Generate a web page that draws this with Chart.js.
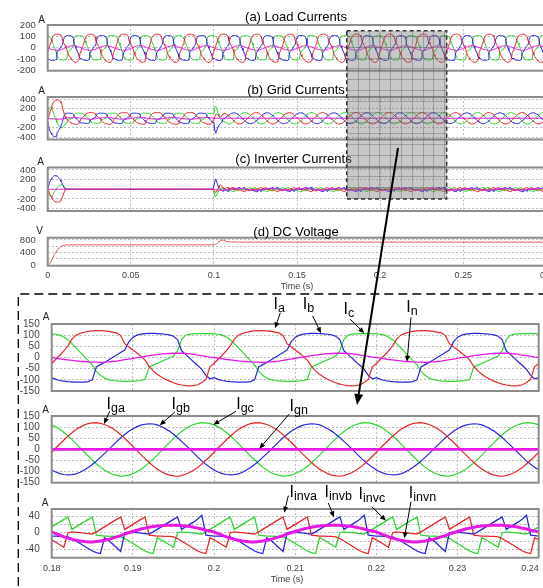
<!DOCTYPE html>
<html><head><meta charset="utf-8">
<script src="https://cdn.jsdelivr.net/npm/chart.js@4.4.1/dist/chart.umd.min.js"></script>
<style>
html,body{margin:0;padding:0;background:#fff;}
body{width:543px;height:588px;overflow:hidden;position:relative;font-family:Arial,"Liberation Sans",sans-serif;}
canvas{position:absolute;left:0;}
.t{position:absolute;white-space:nowrap;transform:translate(-50%,-50%);line-height:1;}
.ttl{font-size:13px;color:#000;}
.unit{font-size:10px;color:#222;}
.xt{font-size:9px;color:#444;}
.lab{position:absolute;white-space:nowrap;font-size:16px;line-height:16px;color:#000;}
.lab span{font-size:12.5px;position:relative;top:3px;}
#shade{position:absolute;background-color:rgba(110,110,110,0.38);
 background-image:repeating-linear-gradient(0deg,rgba(80,80,80,0.35) 0 1px,transparent 1px 10.8px),repeating-linear-gradient(90deg,rgba(80,80,80,0.35) 0 1px,transparent 1px 10.8px);}
svg{position:absolute;left:0;top:0;}
</style></head><body>
<script>
// ---------- DATA (one 20 ms cycle, sampled every 0.5 ms) ----------
const sampleStep = 0.0005;
const tEnd = 0.3;
const tStep = 0.1;
// load currents (a)/(e)
const cycleLoadA = [-27,-8,10,30,52,82,100,108,113,117,119,120,120,119,117,114,110,98,62,48,34,20,5,-12,-40,-60,-75,-87,-97,-106,-113,-119,-123,-126,-127,-126,-122,-112,-98,-42];
const cycleLoadB = [-90,-98,-103,-106,-108,-109,-110,-110,-110,-108,-100,-42,-32,-22,-11,0,11,22,33,70,90,100,105,107,108,108,107,106,104,101,95,80,30,14,-3,-20,-36,-53,-80,-95];
const cycleLoadC = [106,104,100,92,80,62,43,24,5,-14,-33,-62,-80,-92,-99,-103,-105,-106,-107,-107,-106,-105,-103,-98,-42,-34,-26,-18,-10,-2,7,30,80,100,105,106,107,107,107,107];
const cycleLoadN = [0,-3,-6,-9,-11,-13,-15,-17,-18,-20,-21,-21,-22,-21,-20,-18,-16,-13,-10,-7,-4,-1,2,5,8,11,13,15,17,18,19,19,19,18,16,14,11,8,5,2];
// grid currents after compensation (b)/(f)
const cycleGridA = [-13,6,24,42,59,75,89,100,109,116,119,120,117,112,104,94,81,66,49,32,13,-6,-24,-42,-59,-75,-89,-100,-109,-116,-119,-121,-118,-112,-104,-94,-81,-66,-49,-32];
const cycleGridB = [-93,-102,-109,-113,-115,-114,-110,-103,-93,-82,-68,-53,-36,-19,-1,17,35,52,67,81,93,102,109,113,115,114,110,103,93,82,68,53,36,19,1,-17,-35,-52,-67,-81];
const cycleGridC = [110,101,90,76,61,44,26,7,-12,-30,-48,-65,-80,-93,-104,-112,-117,-120,-119,-116,-110,-101,-90,-76,-61,-44,-26,-7,12,30,48,65,80,93,104,112,117,120,119,116];
const cycleGridN = [0,0,0,0,0,0,0,0,0,0,0,0,0,0,0,0,0,0,0,0,0,0,0,0,0,0,0,0,0,0,0,0,0,0,0,0,0,0,0,0];
// inverter currents (c)/(g)
const cycleInvA = [-17,-23,-29,-35,0,2,1,0,-1,-2,-3,2,8,14,20,26,32,38,8,14,20,26,32,38,-6,-7,-8,-8,-9,-9,-10,-14,-20,-26,-32,-38,-44,-48,-50,-12];
const cycleInvB = [-8,-8,-9,-9,-10,-14,-20,-26,-32,-38,-44,-48,-50,-12,-18,-27,-36,-45,0,2,1,0,-1,-2,-3,2,8,14,20,26,32,38,8,14,20,26,33,42,-6,-7];
const cycleInvC = [14,20,26,32,38,8,14,20,26,32,38,-6,-7,-8,-8,-9,-9,-10,-14,-20,-26,-32,-38,-44,-48,-50,-12,-17,-23,-29,-35,0,2,1,0,-1,-2,-3,2,8];
const cycleInvN = [2,-2,-6,-10,-13,-16,-18,-20,-21,-22,-22,-21,-20,-18,-16,-13,-10,-7,-3,0,3,6,9,11,13,15,16,17,18,18,18,18,17,16,15,13,11,9,6,4];
// start-up transient 0 .. 12 ms
const startInvA = [0,-30,-70,-115,-150,-180,-210,-232,-248,-258,-264,-268,-268,-266,-258,-244,-222,-190,-150,-100,-50,-15,0,0,0];
const startInvB = [0,60,120,170,205,235,255,270,280,282,280,272,260,243,222,196,166,132,95,58,25,5,0,0,0];
const startInvC = [0,-60,-110,-140,-150,-140,-115,-85,-55,-25,0,25,45,62,75,85,92,95,90,75,50,20,0,0,0];
const startGridA = [-27,22,80,145,202,262,310,340,361,375,383,388,388,385,375,358,332,288,212,148,84,35,5,-12,-40];
const startGridB = [-90,-158,-223,-276,-313,-344,-365,-380,-390,-390,-380,-314,-292,-265,-233,-196,-155,-110,-62,12,65,95,105,107,108];
const startGridC = [106,164,210,232,230,202,158,109,60,11,-33,-87,-125,-154,-174,-188,-197,-201,-197,-182,-156,-125,-103,-98,-42];
// compensation switched on at 0.1 s, 100 .. 108 ms
const stepInvA = [0,-40,-70,-55,-20,20,55,80,90,75,50,30,15,14,20,26,32];
const stepInvB = [0,150,214,180,120,70,40,20,5,-10,-30,-40,-25,-12,-18,-27,-36];
const stepInvC = [0,-120,-160,-130,-80,-40,-15,0,10,25,30,-6,-7,-8,-8,-9,-9];
const stepGridA = [-27,32,80,85,72,62,45,28,23,42,69,90,105,105,97,88,78];
const stepGridB = [-90,-248,-317,-286,-228,-179,-150,-130,-115,-98,-70,-2,-7,-10,7,27,47];
const stepGridC = [106,224,260,222,160,102,58,24,-5,-39,-63,-56,-73,-84,-91,-94,-96];
// DC voltage (d)
const dcTime = [0,0.001,0.002,0.003,0.004,0.005,0.006,0.007,0.008,0.009,0.010,0.011,0.012,0.1,0.1005,0.101,0.102,0.103,0.104,0.105,0.106,0.107,0.108,0.11,0.12,0.3];
const dcVolt = [0,40,110,220,330,410,490,545,590,615,632,640,642,642,648,660,690,735,775,795,790,765,745,735,730,728];
// ticks
const xTicksTop = [0,0.05,0.1,0.15,0.2,0.25,0.3];
const xTicksZoom = [0.18,0.19,0.2,0.21,0.22,0.23,0.24];
const yTicksAmp200 = [-200,-100,0,100,200];
const yTicksAmp400 = [-400,-200,0,200,400];
const yTicksDC = [0,200,400,600,800];
const yLabelsDC = [0,400,800];
const yTicksAmp150 = [-150,-100,-50,0,50,100,150];
const yTicksInv = [-40,-20,0,20,40];
const yLabelsInv = [-40,0,40];

// ---------- build series ----------
const RED='#e8262b', BLUE='#2626e0', GREEN='#2fd42f', MAG='#e619e6', DCC='#e65a5a';
const CYC = cycleLoadA.length;
const iStep = Math.round(tStep / sampleStep);
const cyc = {
  load:{a:cycleLoadA,b:cycleLoadB,c:cycleLoadC,n:cycleLoadN},
  grid:{a:cycleGridA,b:cycleGridB,c:cycleGridC,n:cycleGridN},
  inv:{a:cycleInvA,b:cycleInvB,c:cycleInvC,n:cycleInvN}
};
const start = {grid:{a:startGridA,b:startGridB,c:startGridC}, inv:{a:startInvA,b:startInvB,c:startInvC}};
const step = {grid:{a:stepGridA,b:stepGridB,c:stepGridC}, inv:{a:stepInvA,b:stepInvB,c:stepInvC}};
function val(kind, ph, i){
  const k = i % CYC;
  if (kind === 'load') return cyc.load[ph][k];
  const s = start[kind][ph];
  if (s && i < s.length) return s[i];
  if (i < iStep) return kind === 'grid' ? cyc.load[ph][k] : 0;
  const st = step[kind][ph];
  if (st && i - iStep < st.length) return st[i - iStep];
  return cyc[kind][ph][k];
}
function series(kind, ph, t0, t1){
  const out = [];
  const i0 = Math.round(t0 / sampleStep), i1 = Math.round(t1 / sampleStep);
  for (let i = i0; i <= i1; i++) out.push({x: +(i*sampleStep).toFixed(5), y: val(kind, ph, i)});
  return out;
}
function ds(data, color, w){ return {data, borderColor:color, borderWidth:w, pointRadius:0, fill:false, tension:0}; }
function phaseSets(kind, t0, t1, w, wn){
  return [ds(series(kind,'n',t0,t1),MAG,wn), ds(series(kind,'a',t0,t1),RED,w), ds(series(kind,'b',t0,t1),BLUE,w), ds(series(kind,'c',t0,t1),GREEN,w)];
}

// ---------- chart helper ----------
const FONT = 'Arial, "Liberation Sans", sans-serif';
const framePlugin = {id:'frame', afterDraw(c){const a=c.chartArea, x=c.ctx; x.save(); x.strokeStyle='#8c8c8c'; x.lineWidth=2; x.strokeRect(a.left,a.top,a.right-a.left,a.bottom-a.top); x.restore();}};
function makePanel(p){
  const W = 560;
  const cTop = Math.floor(p.top) - 11;
  const extra = p.xLabels ? 22 : 11;
  const H = Math.ceil(p.bottom) + extra - cTop;
  const want = {left:p.left, right:p.right, top:p.top - cTop, bottom:p.bottom - cTop};
  const st = {padT: want.top, padR: W - p.right, yW: p.left, xH: H - want.bottom};
  const cv = document.createElement('canvas');
  cv.width = W; cv.height = H;
  cv.style.top = cTop + 'px'; cv.style.width = W + 'px'; cv.style.height = H + 'px';
  document.body.appendChild(cv);
  const labelPlugin = {id:'xl', afterDraw(c){
    if (!p.xLabels) return;
    const s = c.scales.x, ctx = c.ctx, a = c.chartArea;
    ctx.save(); ctx.font = p.xfs + 'px ' + FONT; ctx.fillStyle = '#444'; ctx.textBaseline = 'middle';
    p.xTicks.forEach((v, i) => {
      let px = s.getPixelForValue(v); let al = 'center';
      if (p.lastRight && i === p.xTicks.length - 1) { px = a.right; al = 'right'; }
      ctx.textAlign = al; ctx.fillText(String(v), px, a.bottom + p.xdy);
    });
    ctx.restore();
  }};
  const ch = new Chart(cv, {
    type:'line',
    data:{datasets:p.datasets},
    options:{
      responsive:false, animation:false, devicePixelRatio:1, parsing:false, normalized:true,
      layout:{padding:{top:st.padT, right:st.padR, left:0, bottom:0}},
      plugins:{legend:{display:false}, tooltip:{enabled:false}, title:{display:false}},
      scales:{
        x:{type:'linear', min:p.xMin, max:p.xMax,
           afterBuildTicks:s=>{s.ticks = p.xTicks.map(v=>({value:v}));},
           afterFit:s=>{s.height = st.xH;},
           ticks:{display:false},
           grid:{color:'#bdbdbd', drawTicks:false, lineWidth:1},
           border:{display:false, dash:[2,2]}},
        y:{type:'linear', min:p.yMin, max:p.yMax,
           afterBuildTicks:s=>{s.ticks = p.yTicks.map(v=>({value:v}));},
           afterFit:s=>{s.width = st.yW;},
           ticks:{color:'#444', autoSkip:false, font:{family:FONT, size:p.fs}, padding:3,
                  callback:v => (p.yLabels ? p.yLabels.includes(v) : true) ? String(v) : ''},
           grid:{color:'#bdbdbd', drawTicks:true, tickLength:9, tickColor:'rgba(0,0,0,0)', lineWidth:1},
           border:{display:false, dash:[2,2]}}
      }
    },
    plugins:[framePlugin, labelPlugin]
  });
  // correct the layout so the plot area lands exactly where the reference has it
  for (let it = 0; it < 4; it++) {
    const a = ch.chartArea;
    const dT = want.top - a.top, dB = a.bottom - want.bottom, dL = want.left - a.left, dR = a.right - want.right;
    if (Math.abs(dT) < 0.05 && Math.abs(dB) < 0.05 && Math.abs(dL) < 0.05 && Math.abs(dR) < 0.05) break;
    st.padT += dT; st.xH += dB; st.yW += dL; st.padR += dR;
    ch.options.layout.padding = {top:st.padT, right:st.padR, left:0, bottom:0};
    ch.update();
  }
}

const topL = 47.7, topR = 546.3, zL = 51.7, zR = 538.7;
makePanel({left:topL,right:topR,top:25,bottom:70.7,xMin:0,xMax:0.3,yMin:-200,yMax:200,xTicks:xTicksTop,yTicks:yTicksAmp200,fs:9.5,
  datasets:phaseSets('load',0,tEnd,1,1)});
makePanel({left:topL,right:topR,top:97,bottom:139.5,xMin:0,xMax:0.3,yMin:-450,yMax:450,xTicks:xTicksTop,yTicks:yTicksAmp400,fs:9.5,
  datasets:phaseSets('grid',0,tEnd,1,1)});
makePanel({left:topL,right:topR,top:167.5,bottom:211,xMin:0,xMax:0.3,yMin:-450,yMax:450,xTicks:xTicksTop,yTicks:yTicksAmp400,fs:9.5,
  datasets:phaseSets('inv',0,tEnd,1,1)});
makePanel({left:topL,right:topR,top:237.7,bottom:265.7,xMin:0,xMax:0.3,yMin:-20,yMax:870,xTicks:xTicksTop,yTicks:yTicksDC,yLabels:yLabelsDC,fs:9.5,
  xLabels:true,xfs:9,xdy:9.5,
  datasets:[ds(dcTime.map((t,i)=>({x:t,y:dcVolt[i]})),DCC,1)]});
makePanel({left:zL,right:zR,top:324,bottom:391,xMin:0.18,xMax:0.24,yMin:-150,yMax:150,xTicks:xTicksZoom,yTicks:yTicksAmp150,fs:10,
  datasets:phaseSets('load',0.18,0.24,1.2,1.3)});
makePanel({left:zL,right:zR,top:416,bottom:482.7,xMin:0.18,xMax:0.24,yMin:-150,yMax:150,xTicks:xTicksZoom,yTicks:yTicksAmp150,fs:10,
  datasets:phaseSets('grid',0.18,0.24,1.2,2.6)});
makePanel({left:zL,right:zR,top:509,bottom:557.7,xMin:0.18,xMax:0.24,yMin:-60,yMax:57,xTicks:xTicksZoom,yTicks:yTicksInv,yLabels:yLabelsInv,fs:10,
  xLabels:true,xfs:9,xdy:10.6,lastRight:true,
  datasets:phaseSets('inv',0.18,0.24,1.3,3)});

// ---------- text and overlays ----------
function addDiv(cls, x, y, html){ const d=document.createElement('div'); d.className=cls; d.style.left=x+'px'; d.style.top=y+'px'; d.innerHTML=html; document.body.appendChild(d); return d; }
const titles = [['(a) Load Currents',296,16],['(b) Grid Currents',296,88.5],['(c) Inverter Currents',293.5,157.5],['(d) DC Voltage',296,230.5]];
titles.forEach(a=>addDiv('t ttl',a[1],a[2],a[0]));
const units = [['A',41.5,19.5],['A',41.5,90.5],['A',40.5,162],['V',39.5,231],['A',46,316.5],['A',45.5,409.5],['A',45,503]];
units.forEach(a=>addDiv('t unit',a[1],a[2],a[0]));
addDiv('t xt',297,286,'Time (s)');
addDiv('t xt',287,579,'Time (s)');

const shade = document.createElement('div'); shade.id='shade';
Object.assign(shade.style,{left:'346.7px',top:'30.7px',width:'100px',height:'168.3px'});
document.body.appendChild(shade);

const NS_ = 'http://www.w3.org/2000/svg';
const svg = document.createElementNS(NS_,'svg'); svg.setAttribute('width',543); svg.setAttribute('height',588);
document.body.appendChild(svg);
function el(tag, attrs){ const e=document.createElementNS(NS_,tag); for(const k in attrs) e.setAttribute(k,attrs[k]); svg.appendChild(e); return e; }
el('rect',{x:346.7,y:30.7,width:100,height:168.3,fill:'none',stroke:'#333','stroke-width':1.5,'stroke-dasharray':'4 3'});
el('path',{d:'M18.3 600 L18.3 294 L560 294',fill:'none',stroke:'#000','stroke-width':1.3,'stroke-dasharray':'9 5'});
function arrow(x1,y1,x2,y2,w,hl,hw){
  const dx=x2-x1, dy=y2-y1, L=Math.hypot(dx,dy), ux=dx/L, uy=dy/L;
  const bx=x2-ux*hl, by=y2-uy*hl;
  el('line',{x1,y1,x2:bx,y2:by,stroke:'#000','stroke-width':w});
  el('polygon',{points:`${x2},${y2} ${bx+uy*hw},${by-ux*hw} ${bx-uy*hw},${by+ux*hw}`,fill:'#000'});
}
arrow(398,148,357,405,2,11,4.5);
const annotations = [
  ['a',275,298.3,280.3,312.7,275,328.3],
  ['b',304.3,298.3,312.7,316,321,333.3],
  ['c',345,303.3,350.3,319.3,364.3,333.3],
  ['n',407.7,301,411,317.3,407,361.7],
  ['ga',108,398,109.7,411.3,104,424],
  ['gb',173,398,174.7,412,159.7,425.3],
  ['gc',237.7,398,236,411.3,213.3,424.7],
  ['gn',291,399.7,289.3,414,259.3,448.7],
  ['inva',291,486.3,288.3,495.5,284.3,512.7],
  ['invb',326,486.3,328.3,503,334,517.3],
  ['invc',360,488,371.7,506.7,386,520.7],
  ['invn',410.3,487.3,411,501.7,404.3,538.3]
];
annotations.forEach(a=>{
  addDiv('lab', a[1]-1.5, a[2]-2, 'I<span>'+a[0]+'</span>');
  arrow(a[3],a[4],a[5],a[6],1,6,2.5);
});
</script>
</body></html>
